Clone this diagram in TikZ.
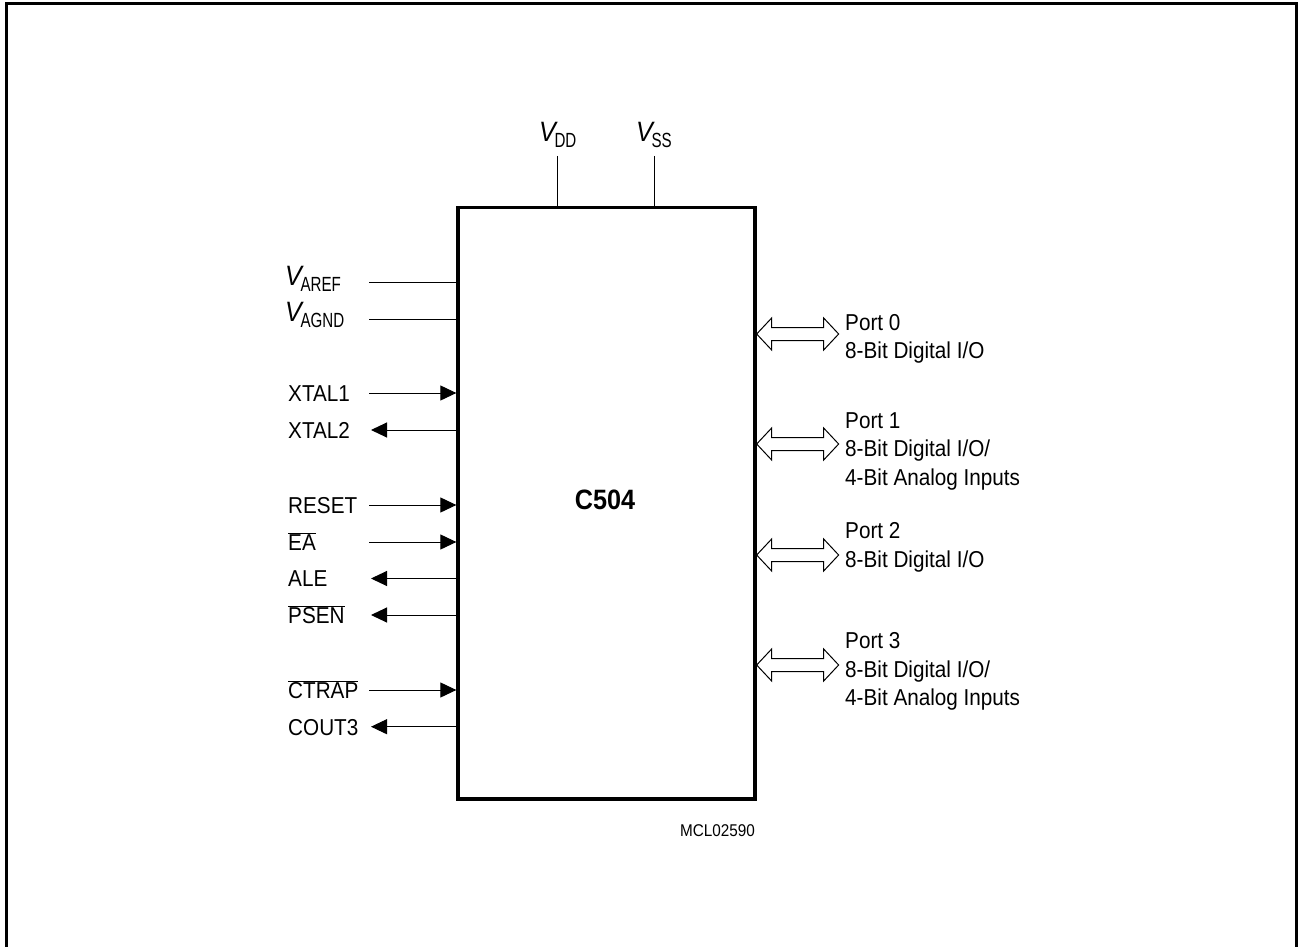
\documentclass[tikz,border=0pt]{standalone}
\usepackage{graphicx}
\usepackage{fontspec}
\setmainfont{Liberation Sans}[FakeStretch=0.9]
\usetikzlibrary{arrows.meta}
\newcommand{\vsub}[1]{{\fontsize{28}{28}\selectfont\itshape V}\kern-1.5pt\raisebox{-6pt}{\scalebox{0.82}[1]{\fontsize{20.5}{20.5}\selectfont #1}}}
\begin{document}
\begin{tikzpicture}[x=1pt,y=-1pt,
  txt/.style={font=\fontsize{23}{28}\selectfont, inner sep=0pt, anchor=base west},
  sig/.style={line width=1pt},
  inarrow/.style={sig, -{Triangle[length=16pt,width=15pt]}},
  frame/.style={line width=3pt},
  chipbox/.style={draw, line width=3.3pt, minimum width=297pt, minimum height=591.3pt, inner sep=0pt},
  dblarrow/.pic={\draw[line width=1pt, fill=white] (0,0) -- (15,-16) -- (15,-6.5) -- (67,-6.5) -- (67,-16) -- (82,0) -- (67,16) -- (67,6.5) -- (15,6.5) -- (15,16) -- cycle;}
]
\useasboundingbox (0,0) rectangle (1301,947);
% frame
\draw[frame] (6,948) -- (6,4) -- (1296.7,4) -- (1296.7,948);
% chip
\node[chipbox] (chip) at (606.5,503.3) {};
\node[font=\fontsize{28}{28}\selectfont\bfseries, inner sep=0pt, anchor=base] (title) at (605,509) {C504};
\node[font=\fontsize{17}{17}\selectfont, inner sep=0pt, anchor=base] (code) at (717.5,836.5) {MCL02590};
% supply pins
\coordinate (vddtop) at (557.7,156);
\coordinate (vsstop) at (654.3,156);
\draw[sig] (vddtop) -- (vddtop |- chip.north);
\draw[sig] (vsstop) -- (vsstop |- chip.north);
\node[txt] (vdd) at (539,142) {\vsub{DD}};
\node[txt] (vss) at (636,142) {\vsub{SS}};
% analog reference
\node[txt] (varef) at (285,285) {\vsub{AREF}};
\node[txt] (vagnd) at (285,321.6) {\vsub{AGND}};
\coordinate (arefend) at (369,282.7);
\coordinate (agndend) at (369,319.3);
\draw[sig] (arefend) -- (arefend -| chip.west);
\draw[sig] (agndend) -- (agndend -| chip.west);
% inputs / outputs
\node[txt] (xtal1) at (288,401.5) {XTAL1};
\node[txt] (xtal2) at (288,438.3) {XTAL2};
\node[txt] (reset) at (288,513.3) {RESET};
\node[txt] (ea) at (288,550.3) {$\overline{\mbox{EA}}$};
\node[txt] (ale) at (288,586.8) {ALE};
\node[txt] (psen) at (288,623.3) {$\overline{\mbox{PSEN}}$};
\node[txt] (ctrap) at (288,698.3) {$\overline{\mbox{CTRAP}}$};
\node[txt] (cout3) at (288,735) {COUT3};
\coordinate (xtal1end) at (369,393);
\coordinate (xtal2end) at (371,430);
\coordinate (resetend) at (369,505);
\coordinate (eaend) at (369,542);
\coordinate (aleend) at (371,578.5);
\coordinate (psenend) at (371,615);
\coordinate (ctrapend) at (369,690);
\coordinate (cout3end) at (371,726.7);
\draw[inarrow] (xtal1end) -- (xtal1end -| chip.west);
\draw[inarrow] (xtal2end -| chip.west) -- (xtal2end);
\draw[inarrow] (resetend) -- (resetend -| chip.west);
\draw[inarrow] (eaend) -- (eaend -| chip.west);
\draw[inarrow] (aleend -| chip.west) -- (aleend);
\draw[inarrow] (psenend -| chip.west) -- (psenend);
\draw[inarrow] (ctrapend) -- (ctrapend -| chip.west);
\draw[inarrow] (cout3end -| chip.west) -- (cout3end);
% ports
\coordinate (p0) at (chip.east |- 0,334);
\coordinate (p1) at (chip.east |- 0,444);
\coordinate (p2) at (chip.east |- 0,555);
\coordinate (p3) at (chip.east |- 0,665);
\pic at (p0) {dblarrow};
\pic at (p1) {dblarrow};
\pic at (p2) {dblarrow};
\pic at (p3) {dblarrow};
\node[txt] (p0a) at (845,330) {Port 0};
\node[txt] (p0b) at (845,358) {8-Bit Digital I/O};
\node[txt] (p1a) at (845,428) {Port 1};
\node[txt] (p1b) at (845,456.5) {8-Bit Digital I/O/};
\node[txt] (p1c) at (845,485) {4-Bit Analog Inputs};
\node[txt] (p2a) at (845,538) {Port 2};
\node[txt] (p2b) at (845,567) {8-Bit Digital I/O};
\node[txt] (p3a) at (845,648) {Port 3};
\node[txt] (p3b) at (845,677) {8-Bit Digital I/O/};
\node[txt] (p3c) at (845,705.5) {4-Bit Analog Inputs};
\end{tikzpicture}
\end{document}
